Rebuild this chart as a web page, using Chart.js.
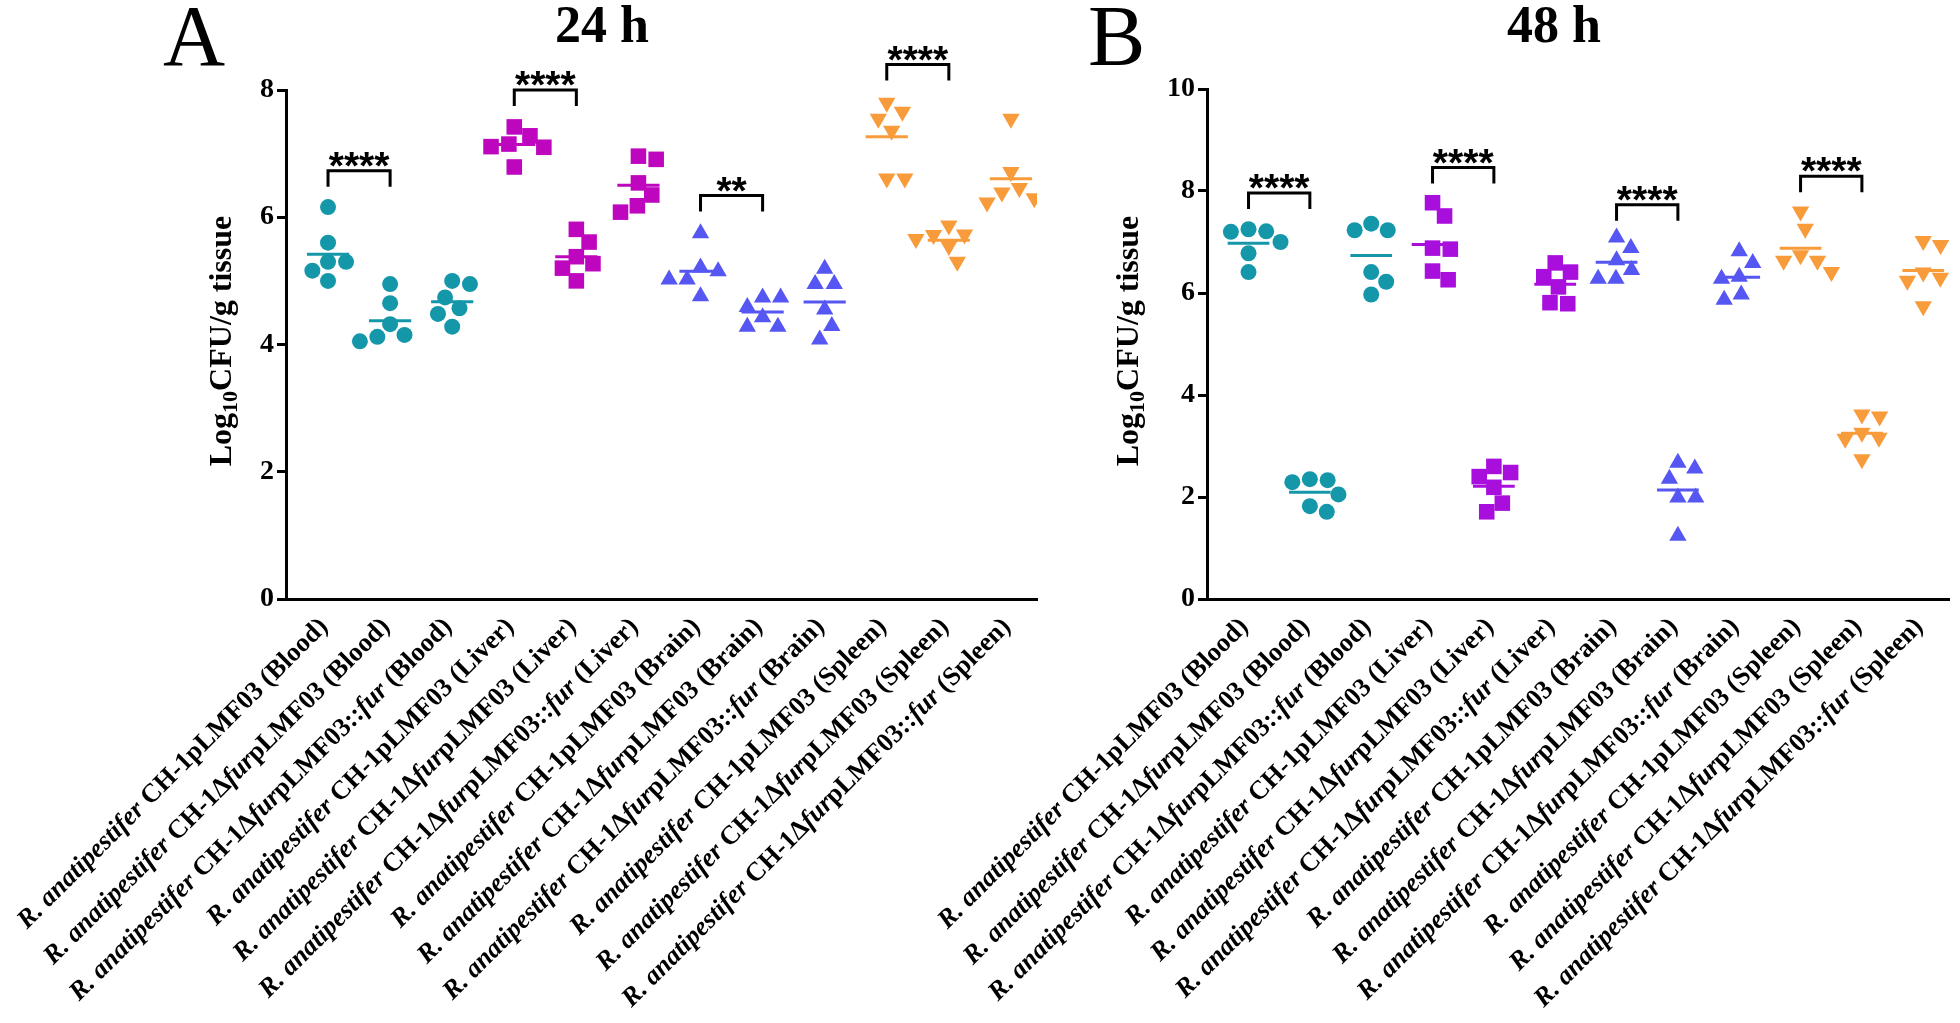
<!DOCTYPE html>
<html>
<head>
<meta charset="utf-8">
<script src="https://cdn.jsdelivr.net/npm/chart.js@4.4.1/dist/chart.umd.min.js"></script>
<style>
html, body { margin: 0; padding: 0; background: #fff; }
#wrap { position: relative; width: 1960px; height: 1023px; }
canvas { position: absolute; left: 0; top: 0; }
</style>
</head>
<body>
<div id="wrap">
  <canvas id="chartA" width="1960" height="1023"></canvas>
  <canvas id="chartB" width="1960" height="1023"></canvas>
</div>
<script>
// group labels, *...* = italic
const categories = [
  '*R. anatipestifer* CH-1pLMF03 (Blood)',
  '*R. anatipestifer* CH-1Δ*fur*pLMF03 (Blood)',
  '*R. anatipestifer* CH-1Δ*fur*pLMF03::*fur* (Blood)',
  '*R. anatipestifer* CH-1pLMF03 (Liver)',
  '*R. anatipestifer* CH-1Δ*fur*pLMF03 (Liver)',
  '*R. anatipestifer* CH-1Δ*fur*pLMF03::*fur* (Liver)',
  '*R. anatipestifer* CH-1pLMF03 (Brain)',
  '*R. anatipestifer* CH-1Δ*fur*pLMF03 (Brain)',
  '*R. anatipestifer* CH-1Δ*fur*pLMF03::*fur* (Brain)',
  '*R. anatipestifer* CH-1pLMF03 (Spleen)',
  '*R. anatipestifer* CH-1Δ*fur*pLMF03 (Spleen)',
  '*R. anatipestifer* CH-1Δ*fur*pLMF03::*fur* (Spleen)'
];

// log10 CFU/g, 6 ducks per group: [pLMF03, Δfur, Δfur::fur]
const blood24h = [
  [6.16, 5.60, 5.30, 5.30, 5.16, 5.00],
  [4.95, 4.65, 4.32, 4.15, 4.12, 4.05],
  [4.95, 5.00, 4.74, 4.57, 4.48, 4.28]
];
const liver24h = [
  [7.42, 7.28, 7.15, 7.11, 7.10, 6.79],
  [5.81, 5.61, 5.38, 5.27, 5.20, 5.00],
  [6.96, 6.91, 6.54, 6.35, 6.18, 6.08]
];
const brain24h = [
  [5.75, 5.21, 5.15, 5.02, 5.02, 4.76],
  [4.74, 4.74, 4.59, 4.43, 4.28, 4.28],
  [5.19, 4.95, 4.95, 4.55, 4.29, 4.08]
];
const spleen24h = [
  [7.80, 7.66, 7.55, 7.36, 6.61, 6.61],
  [5.87, 5.73, 5.72, 5.66, 5.55, 5.30],
  [7.55, 6.71, 6.46, 6.39, 6.30, 6.23]
];

const blood48h = [
  [7.21, 7.20, 7.25, 7.00, 6.78, 6.41],
  [2.29, 2.33, 2.35, 2.05, 1.82, 1.71],
  [7.23, 7.23, 7.36, 6.41, 6.22, 5.97]
];
const liver48h = [
  [7.77, 7.51, 6.88, 6.86, 6.43, 6.26],
  [2.60, 2.48, 2.40, 2.19, 1.88, 1.71],
  [6.59, 6.41, 6.32, 6.12, 5.79, 5.81]
];
const brain48h = [
  [7.09, 6.88, 6.64, 6.45, 6.28, 6.28],
  [2.67, 2.56, 2.36, 1.99, 1.99, 1.24],
  [6.82, 6.59, 6.32, 6.28, 5.97, 5.87]
];
const spleen48h = [
  [7.60, 7.26, 6.74, 6.63, 6.63, 6.41],
  [3.62, 3.58, 3.26, 3.16, 3.14, 2.74],
  [6.94, 7.02, 6.40, 6.30, 6.24, 5.74]
];

// significance brackets (group pairs, bracket height in log10 units)
const pairs = [[0, 1], [3, 4], [6, 7], [9, 10]];
const stars24h = ['****', '****', '**', '****'];
const bracketY24h = [6.73, 8.0, 6.34, 8.4];
const stars48h = ['****', '****', '****', '****'];
const bracketY48h = [7.96, 8.46, 7.73, 8.29];

const yTicks24h = [0, 2, 4, 6, 8];
const yTicks48h = [0, 2, 4, 6, 8, 10];

const tissueColors24h = ['#1597aa', '#bf06bf', '#5656f2', '#f89b3b'];
const tissueColors48h = ['#1597aa', '#a90fdc', '#5656f2', '#f89b3b'];
const tissueShapes = ['circle', 'rect', 'triangle', 'triangle'];
const tissueRot = [0, 0, 0, 180];
const tissueRadius = [8, 11, 10, 10];

const SERIF = '"Liberation Serif", "Times New Roman", serif';
const LABEL_ANGLE = 45 * Math.PI / 180;

// simple beeswarm so overlapping points spread sideways
function swarm(vals, pxPerY, pxPerX) {
  const D = 18;
  const order = vals.map((v, i) => i).sort((a, b) => vals[b] - vals[a]);
  const placed = [];
  const off = new Array(vals.length).fill(0);
  order.forEach(i => {
    const y = vals[i] * pxPerY;
    const cands = [0];
    placed.forEach(p => {
      const dy = Math.abs(p.y - y);
      if (dy < D) {
        const dx = Math.sqrt(D * D - dy * dy);
        cands.push(p.x + dx, p.x - dx);
      }
    });
    cands.sort((a, b) => Math.abs(a) - Math.abs(b));
    const x = cands.find(c => placed.every(p => Math.hypot(p.x - c, p.y - y) >= D - 0.01));
    placed.push({ x: x, y: y });
    off[i] = x / pxPerX;
  });
  return off;
}

function mean(a) {
  return a.reduce((s, v) => s + v, 0) / a.length;
}

function parseRich(str) {
  return str.split('*').map((t, i) => ({ text: t, italic: i % 2 === 1 })).filter(s => s.text.length);
}

function richFont(seg, size) {
  return (seg.italic ? 'italic ' : '') + 'bold ' + size + 'px ' + SERIF;
}

function makePanel(id, groups, colors, cfg) {
  const pxPerX = 62;
  const datasets = groups.map((vals, i) => {
    const t = Math.floor(i / 3);
    const off = swarm(vals, cfg.pxPerY, pxPerX);
    return {
      data: vals.map((v, j) => ({ x: i + off[j], y: v })),
      pointStyle: tissueShapes[t],
      rotation: tissueRot[t],
      pointRadius: tissueRadius[t],
      backgroundColor: colors[t],
      borderColor: colors[t],
      borderWidth: 0
    };
  });

  const overlay = {
    id: 'overlay',
    afterDatasetsDraw(chart) {
      const ctx = chart.ctx;
      const xs = chart.scales.x, ys = chart.scales.y;
      ctx.save();
      // mean lines
      groups.forEach((vals, i) => {
        const m = mean(vals);
        ctx.strokeStyle = colors[Math.floor(i / 3)];
        ctx.lineWidth = 3;
        ctx.beginPath();
        ctx.moveTo(xs.getPixelForValue(i - 0.34), ys.getPixelForValue(m));
        ctx.lineTo(xs.getPixelForValue(i + 0.34), ys.getPixelForValue(m));
        ctx.stroke();
      });
      // brackets
      pairs.forEach((p, k) => {
        const x1 = xs.getPixelForValue(p[0]);
        const x2 = xs.getPixelForValue(p[1]);
        const y = ys.getPixelForValue(cfg.bracketY[k]);
        ctx.strokeStyle = '#000';
        ctx.lineWidth = 3;
        ctx.beginPath();
        ctx.moveTo(x1, y + 16);
        ctx.lineTo(x1, y);
        ctx.lineTo(x2, y);
        ctx.lineTo(x2, y + 16);
        ctx.stroke();
        ctx.fillStyle = '#000';
        ctx.font = 'bold 39px "Liberation Sans", Arial, sans-serif';
        ctx.textAlign = 'center';
        ctx.textBaseline = 'alphabetic';
        ctx.fillText(cfg.stars[k], (x1 + x2) / 2, y + 8);
      });
      ctx.restore();
    },
    afterDraw(chart) {
      const ctx = chart.ctx;
      const xs = chart.scales.x;
      const bottom = chart.chartArea.bottom;
      ctx.save();
      ctx.fillStyle = '#000';
      // panel letter
      ctx.font = '86px ' + SERIF;
      ctx.textAlign = 'left';
      ctx.textBaseline = 'alphabetic';
      ctx.fillText(cfg.letter, cfg.letterX, 65);
      // panel title
      ctx.font = 'bold 52px ' + SERIF;
      ctx.textAlign = 'center';
      ctx.fillText(cfg.title, cfg.titleX, 42);
      // y axis title with subscript
      ctx.save();
      ctx.translate(cfg.yTitleX, 341);
      ctx.rotate(-Math.PI / 2);
      const parts = [
        { t: 'Log', f: 'bold 32px ' + SERIF, dy: 0 },
        { t: '10', f: 'bold 22px ' + SERIF, dy: 8 },
        { t: 'CFU/g tissue', f: 'bold 32px ' + SERIF, dy: 0 }
      ];
      let w = 0;
      parts.forEach(p => { ctx.font = p.f; w += ctx.measureText(p.t).width; });
      let cx = -w / 2;
      ctx.textAlign = 'left';
      ctx.textBaseline = 'middle';
      parts.forEach(p => {
        ctx.font = p.f;
        ctx.fillText(p.t, cx, p.dy);
        cx += ctx.measureText(p.t).width;
      });
      ctx.restore();
      // rotated category labels
      categories.forEach((lab, i) => {
        const segs = parseRich(lab);
        const size = 26.5;
        let total = 0;
        segs.forEach(s => { ctx.font = richFont(s, size); total += ctx.measureText(s.text).width; });
        ctx.save();
        ctx.translate(xs.getPixelForValue(i) - 4, bottom + 24);
        ctx.rotate(-LABEL_ANGLE);
        ctx.textAlign = 'left';
        ctx.textBaseline = 'middle';
        let px = -total;
        segs.forEach(s => {
          ctx.font = richFont(s, size);
          ctx.fillText(s.text, px, 0);
          px += ctx.measureText(s.text).width;
        });
        ctx.restore();
      });
      ctx.restore();
    }
  };

  return new Chart(document.getElementById(id), {
    type: 'scatter',
    data: { datasets: datasets },
    options: {
      responsive: false,
      animation: false,
      layout: { padding: cfg.padding },
      plugins: { legend: { display: false }, tooltip: { enabled: false } },
      scales: {
        x: {
          type: 'linear',
          min: -0.677,
          max: 11.42,
          ticks: { display: false },
          grid: { display: false, drawTicks: false },
          border: { display: true, color: '#000', width: 3 },
          afterFit(scale) { scale.height = 0; }
        },
        y: {
          min: 0,
          max: cfg.yMax,
          afterBuildTicks(scale) { scale.ticks = cfg.yTicks.map(v => ({ value: v })); },
          ticks: {
            color: '#000',
            padding: 3,
            font: { family: SERIF, weight: 'bold', size: 28 }
          },
          grid: { display: true, drawOnChartArea: false, drawTicks: true, tickLength: 9, color: '#000', lineWidth: 3 },
          border: { display: true, color: '#000', width: 3 },
          afterFit(scale) { scale.width = 100; }
        }
      }
    },
    plugins: [overlay]
  });
}

makePanel('chartA', [...blood24h, ...liver24h, ...brain24h, ...spleen24h], tissueColors24h, {
  letter: 'A', letterX: 163, title: '24 h', titleX: 602, yTitleX: 223,
  yMax: 8, yTicks: yTicks24h, pxPerY: 63.6,
  stars: stars24h, bracketY: bracketY24h,
  padding: { left: 186, right: 923, top: 90, bottom: 424 }
});

makePanel('chartB', [...blood48h, ...liver48h, ...brain48h, ...spleen48h], tissueColors48h, {
  letter: 'B', letterX: 1088, title: '48 h', titleX: 1554, yTitleX: 1130,
  yMax: 10, yTicks: yTicks48h, pxPerY: 51.1,
  stars: stars48h, bracketY: bracketY48h,
  padding: { left: 1107, right: 3, top: 89, bottom: 424 }
});
</script>
</body>
</html>
